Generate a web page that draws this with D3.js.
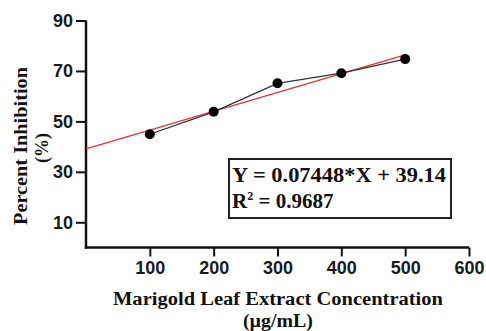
<!DOCTYPE html>
<html>
<head>
<meta charset="utf-8">
<script src="https://cdn.jsdelivr.net/npm/d3@7"></script>
<style>
  body { margin: 0; background: #fff; }
  svg { display: block; }
</style>
</head>
<body>
<script>
// data
const concentrations = [100, 200, 300, 400, 500];
const inhibition = [44.9, 53.8, 65.1, 69.1, 74.7];
const xTicks = [100, 200, 300, 400, 500, 600];
const yTicks = [10, 30, 50, 70, 90];
const fitSlope = 0.07448;
const fitIntercept = 39.14;
const fitRange = [0, 500];
const equationLines = ['Y = 0.07448*X + 39.14', 'R', ' = 0.9687'];

const W = 486, H = 331;
const svg = d3.select('body').append('svg').attr('width', W).attr('height', H);

const x = d3.scaleLinear().domain([0, 600]).range([86, 469]);
const y = d3.scaleLinear().domain([0, 90]).range([247.5, 20.5]);

const tickFont = 'bold 18px "Liberation Sans", Arial, sans-serif';
const serif = '"Liberation Serif", "Times New Roman", serif';

// axes
const xAxis = svg.append('g').attr('transform', `translate(0,${y(0)})`)
  .call(d3.axisBottom(x).tickValues(xTicks).tickSize(9).tickPadding(5).tickSizeOuter(0));
const yAxis = svg.append('g').attr('transform', `translate(${x(0)},0)`)
  .call(d3.axisLeft(y).tickValues(yTicks).tickSize(10).tickPadding(3).tickSizeOuter(0));
[xAxis, yAxis].forEach(a => {
  a.select('.domain').attr('stroke', '#111').attr('stroke-width', 2.5);
  a.selectAll('.tick line').attr('stroke', '#111').attr('stroke-width', 2);
  a.selectAll('.tick text').style('font', tickFont).attr('fill', '#1a1a1a');
});
// close the corner where the axes meet
xAxis.select('.domain').attr('d', `M${x(0) - 1.2},0H${x(600)}`);
yAxis.select('.domain').attr('d', `M0,${y(90)}V${y(0) + 1.2}`);

// regression line
svg.append('line')
  .attr('x1', x(fitRange[0])).attr('y1', y(fitIntercept + fitSlope * fitRange[0]))
  .attr('x2', x(fitRange[1])).attr('y2', y(fitIntercept + fitSlope * fitRange[1]))
  .attr('stroke', '#e8313a').attr('stroke-width', 1.3);

// connecting line + points
const pts = concentrations.map((c, i) => [c, inhibition[i]]);
svg.append('path')
  .attr('d', d3.line().x(d => x(d[0])).y(d => y(d[1]))(pts))
  .attr('fill', 'none').attr('stroke', '#333').attr('stroke-width', 1.3);
svg.selectAll('circle.pt').data(pts).join('circle')
  .attr('class', 'pt')
  .attr('cx', d => x(d[0])).attr('cy', d => y(d[1])).attr('r', 5)
  .attr('fill', '#000');

// equation box
svg.append('rect')
  .attr('x', 229).attr('y', 159).attr('width', 222).attr('height', 59)
  .attr('fill', '#fff').attr('stroke', '#222').attr('stroke-width', 2);
svg.append('text').attr('x', 232).attr('y', 182)
  .attr('textLength', 214).attr('lengthAdjust', 'spacingAndGlyphs')
  .style('font', `bold 21px ${serif}`).attr('fill', '#111')
  .text(equationLines[0]);
const r2 = svg.append('text').attr('x', 232).attr('y', 208)
  .style('font', `bold 21px ${serif}`).attr('fill', '#111');
r2.append('tspan').text(equationLines[1]);
r2.append('tspan').attr('dy', -8).style('font-size', '12px').text('2');
r2.append('tspan').attr('dy', 8).text(equationLines[2]);

// axis titles (glyphs in the figure are slightly stretched)
svg.append('text').attr('x', 278).attr('y', 305).attr('text-anchor', 'middle')
  .attr('textLength', 330).attr('lengthAdjust', 'spacingAndGlyphs')
  .style('font', `bold 18px ${serif}`).attr('fill', '#111')
  .text('Marigold Leaf Extract Concentration');
svg.append('text').attr('x', 278).attr('y', 327).attr('text-anchor', 'middle')
  .attr('textLength', 70).attr('lengthAdjust', 'spacingAndGlyphs')
  .style('font', `bold 18px ${serif}`).attr('fill', '#111')
  .text('(µg/mL)');
svg.append('text').attr('transform', 'translate(27,146) rotate(-90)').attr('text-anchor', 'middle')
  .attr('textLength', 158).attr('lengthAdjust', 'spacingAndGlyphs')
  .style('font', `bold 18px ${serif}`).attr('fill', '#111')
  .text('Percent Inhibition');
svg.append('text').attr('transform', 'translate(48,148) rotate(-90)').attr('text-anchor', 'middle')
  .style('font', `bold 18px ${serif}`).attr('fill', '#111')
  .text('(%)');
</script>
</body>
</html>
